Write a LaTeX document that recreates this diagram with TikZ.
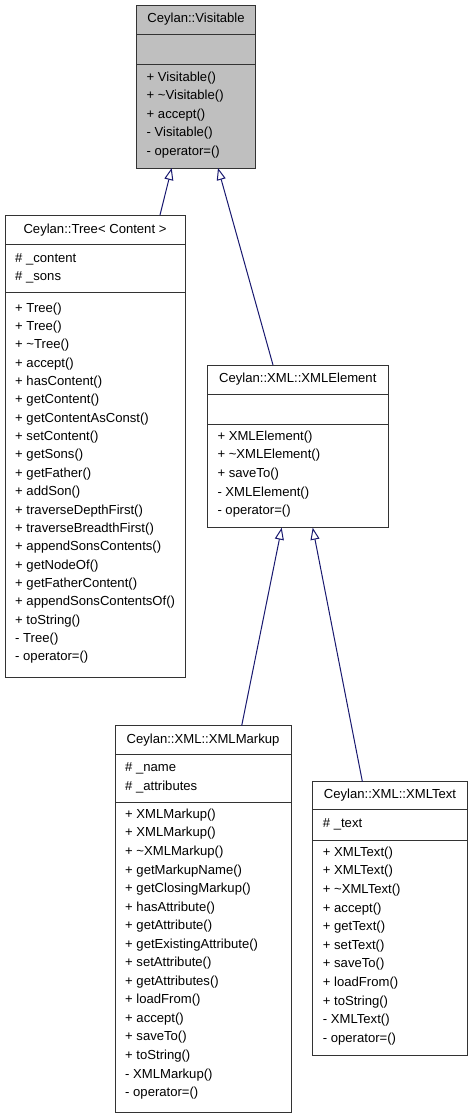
\documentclass[tikz,border=0pt]{standalone}
\usepackage{fontspec}
\setmainfont{Liberation Sans}
\usetikzlibrary{arrows.meta}
\definecolor{edgeblue}{HTML}{191970}
\definecolor{boxgray}{HTML}{BFBFBF}
\definecolor{boxline}{HTML}{333333}
\tikzset{
  classbox/.style={draw=boxline, line width=1pt, inner sep=0pt, outer sep=0pt, rectangle, anchor=north west},
  member/.style={anchor=west, inner sep=0pt, text height=9.5pt, text depth=2.8pt, font=\fontsize{13.1}{15}\selectfont},
  ctitle/.style={anchor=center, inner sep=0pt, text height=9.5pt, text depth=2.8pt, font=\fontsize{13.1}{15}\selectfont},
  sepline/.style={draw=boxline, line width=1pt},
  inh/.style={draw=edgeblue, line width=1pt, -{Triangle[length=12pt, width=9pt, fill=white]}},
}
\newcommand\mlist[5]{%
  \foreach \t [count=\i from 0] in {#5} {\node[member] (#1\i) at (#2, #3+\i*#4) {\t};}}
\begin{document}
\begin{tikzpicture}[x=1pt, y=-1pt]
\useasboundingbox (0,0) rectangle (473,1117);
\fill[white] (0,0) rectangle (473,1117);

% Ceylan::Visitable
\node[classbox, fill=boxgray, minimum width=119pt, minimum height=163pt] (vis) at (136.5,5) {};
\draw[sepline] (136.5,34) -- (255.5,34);
\draw[sepline] (136.5,64) -- (255.5,64);
\node[ctitle] (vist) at (196,19.5) {Ceylan::Visitable};
\mlist{vism}{146.5}{77.7}{18.6}{+ Visitable(), + \textasciitilde Visitable(), + accept(), - Visitable(), - operator=()}

% Ceylan::Tree< Content >
\node[classbox, fill=white, minimum width=180pt, minimum height=462pt] (tree) at (5,215) {};
\draw[sepline] (5,244.7) -- (185,244.7);
\draw[sepline] (5,292.7) -- (185,292.7);
\node[ctitle] (treet) at (95,229.9) {Ceylan::Tree< Content >};
\mlist{treea}{15}{259.3}{18.3}{\# \_content, \# \_sons}
\mlist{treem}{15}{308.8}{18.35}{+ Tree(), + Tree(), + \textasciitilde Tree(), + accept(), + hasContent(), + getContent(), + getContentAsConst(), + setContent(), + getSons(), + getFather(), + addSon(), + traverseDepthFirst(), + traverseBreadthFirst(), + appendSonsContents(), + getNodeOf(), + getFatherContent(), + appendSonsContentsOf(), + toString(), - Tree(), - operator=()}

% Ceylan::XML::XMLElement
\node[classbox, fill=white, minimum width=181pt, minimum height=162.7pt] (xel) at (207.3,365) {};
\draw[sepline] (207.3,394) -- (388.3,394);
\draw[sepline] (207.3,424) -- (388.3,424);
\node[ctitle] (xelt) at (297.8,379.5) {Ceylan::XML::XMLElement};
\mlist{xelm}{217.3}{436.7}{18.7}{+ XMLElement(), + \textasciitilde XMLElement(), + saveTo(), - XMLElement(), - operator=()}

% Ceylan::XML::XMLMarkup
\node[classbox, fill=white, minimum width=176pt, minimum height=386.3pt] (xmk) at (115,725.7) {};
\draw[sepline] (115,754) -- (291,754);
\draw[sepline] (115,802) -- (291,802);
\node[ctitle] (xmkt) at (203,740) {Ceylan::XML::XMLMarkup};
\mlist{xmka}{125}{768.3}{18.4}{\# \_name, \# \_attributes}
\mlist{xmkm}{125}{815}{18.55}{+ XMLMarkup(), + XMLMarkup(), + \textasciitilde XMLMarkup(), + getMarkupName(), + getClosingMarkup(), + hasAttribute(), + getAttribute(), + getExistingAttribute(), + setAttribute(), + getAttributes(), + loadFrom(), + accept(), + saveTo(), + toString(), - XMLMarkup(), - operator=()}

% Ceylan::XML::XMLText
\node[classbox, fill=white, minimum width=154.6pt, minimum height=273.3pt] (xtx) at (312.7,781.7) {};
\draw[sepline] (312.7,809) -- (467.3,809);
\draw[sepline] (312.7,840) -- (467.3,840);
\node[ctitle] (xtxt) at (390,795.3) {Ceylan::XML::XMLText};
\mlist{xtxa}{322.7}{824}{18.4}{\# \_text}
\mlist{xtxm}{322.7}{852.7}{18.65}{+ XMLText(), + XMLText(), + \textasciitilde XMLText(), + accept(), + getText(), + setText(), + saveTo(), + loadFrom(), + toString(), - XMLText(), - operator=()}

% inheritance connectors
\draw[inh] ([xshift=65pt]tree.north) -- ([xshift=-24.3pt]vis.south);
\draw[inh] ([xshift=-24.8pt]xel.north) -- ([xshift=22pt]vis.south);
\draw[inh] ([xshift=38.7pt]xmk.north) -- ([xshift=-16.1pt]xel.south);
\draw[inh] ([xshift=-27.6pt]xtx.north) -- ([xshift=14.9pt]xel.south);
\end{tikzpicture}
\end{document}
